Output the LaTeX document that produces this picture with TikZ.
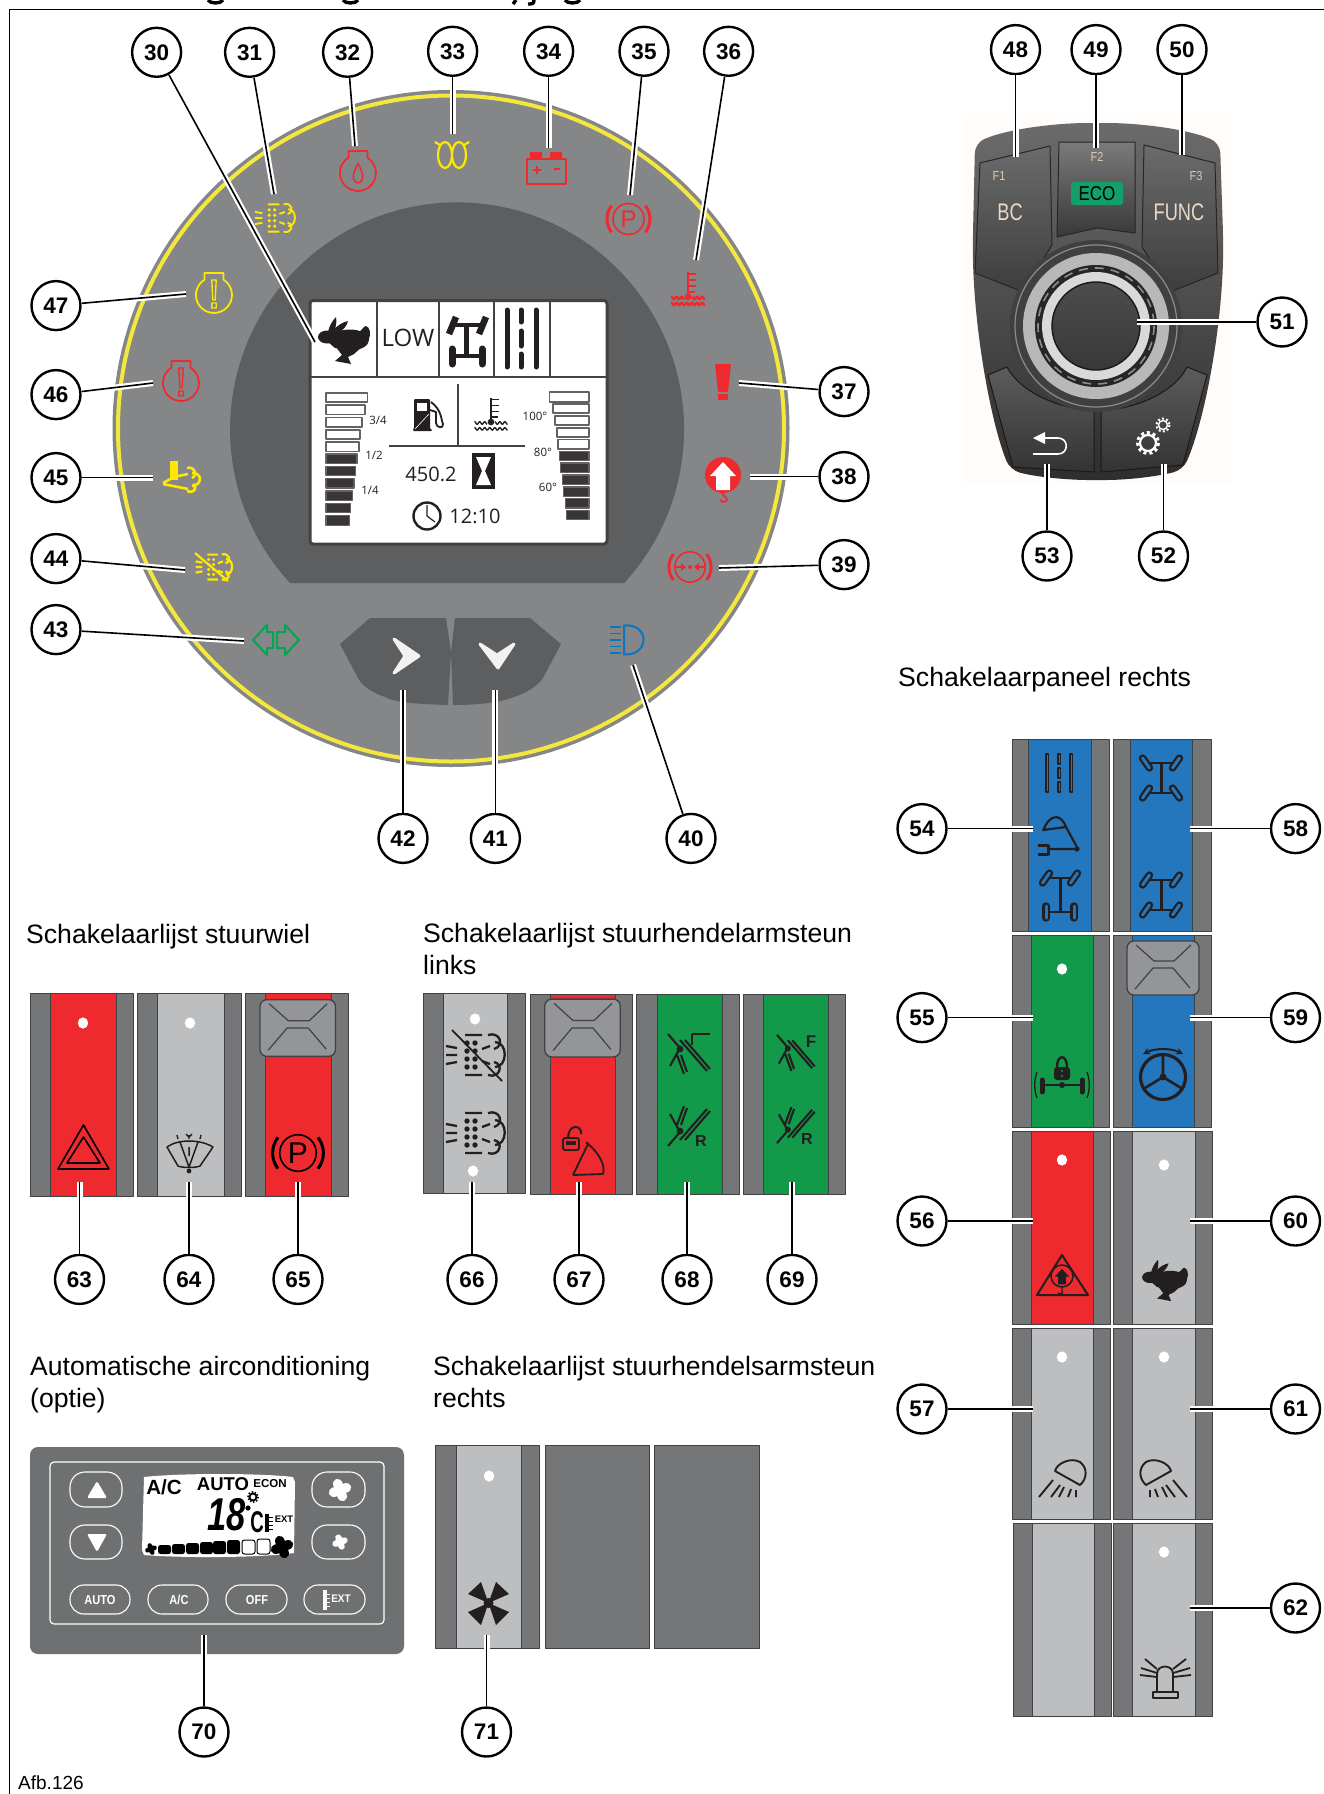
\documentclass[tikz,border=0pt]{standalone}
\usepackage{fontspec}
\setmainfont{Liberation Sans}
\newfontfamily\lcdf{Open Sans}
\definecolor{ringgrey}{HTML}{858688}
\definecolor{ringyel}{HTML}{F4E83E}
\definecolor{inner}{HTML}{5D5E60}
\definecolor{sideg}{HTML}{757678}
\definecolor{lineg}{HTML}{414143}
\definecolor{lightg}{HTML}{BDBEC0}
\definecolor{rocker}{HTML}{939598}
\definecolor{cred}{HTML}{EE2A2E}
\definecolor{cyel}{HTML}{FFE800}
\definecolor{cgreen}{HTML}{129A4A}
\definecolor{cblue}{HTML}{2577BD}
\definecolor{iblue}{HTML}{0A76BE}
\definecolor{igreen}{HTML}{00A651}
\definecolor{ink}{HTML}{231F20}
\definecolor{ecog}{HTML}{12A06A}
\newcommand{\fs}[1]{\fontsize{#1}{#1}\selectfont}
\tikzset{
 num/.style={circle,draw=black,line width=2.4pt,fill=white,minimum size=49pt,inner sep=0pt,font=\bfseries\fs{22.5}},
 leader/.style={draw=black,line width=1.6pt,preaction={draw=white,line width=6pt}},
 plaintxt/.style={anchor=base west,inner sep=0pt,font=\fs{26.6}},
 led/.style={fill=white},
 rabbit/.pic={\fill (6,0) ellipse[x radius=19,y radius=10.5];
   \fill (-17,-3) ellipse[x radius=9,y radius=6.5];
   \fill (-15,-8)--(-4,-9)--(-2,9)--(-9,8)--(-16,2)--cycle;
   \fill (-16,-8) .. controls (-15,-14) and (-11,-20) .. (-8,-23) .. controls (-7,-18) and (-8,-13) .. (-10,-8) -- cycle;
   \fill (-12,-9) .. controls (-6,-15) and (-1,-18) .. (4,-19) .. controls (3,-14) and (-1,-10) .. (-5,-7) --cycle;
   \fill (15,-8) .. controls (18,-10) and (20,-14) .. (22,-14) .. controls (26,-13) and (27,-6) .. (25,-1) .. controls (24,3) and (22,6) .. (18,8) -- cycle;
   \fill (20,5)--(10,14)--(4,17)--(7,24)--(-9,21)--(-2,15)--(-8,7)--cycle;},
 engine/.pic={\draw (-9.5,-22)--(9.5,-22)--(9.5,-15.3) arc[start angle=-58,end angle=238,radius=18]--cycle;},
 excl/.pic={\draw (-2.2,-15)--(2.2,-15)--(1.2,5)--(-1.2,5)--cycle (-2.2,8) rectangle (2.2,13);},
 dpf/.pic={\draw (-9,-20)--(8,-20) (-9,20)--(8,20) (-28,-9)--(-17,-7) (-28,0)--(-17,0) (-28,9)--(-17,7) (8,-6)--(16,-9) (8,6)--(16,9);
   \foreach \dx in {-7,1}{\foreach \dy in {-12,-4,4,12}{\fill (\dx,\dy) circle[radius=2.7];}}
   \draw (14,-20) .. controls (26,-24) and (31,-9) .. (20,-6) (21,-13) .. controls (34,-13) and (34,12) .. (21,12) (14,20) .. controls (26,24) and (30,9) .. (20,7);},
 therm/.pic={\draw (0,-25)--(0,0) (0,-23)--(8,-23) (0,-17)--(8,-17) (0,-11)--(8,-11) (0,-5)--(7,-5);
   \fill (0,0) circle[radius=3.4];
   \draw plot[domain=-17:-4,samples=25] (\x,{1+1.3*sin(\x*70)});
   \draw plot[domain=4:17,samples=25] (\x,{1+1.3*sin(\x*70)});
   \draw plot[domain=-17:17,samples=50] (\x,{7+1.3*sin(\x*70)});},
 fanpic/.pic={\foreach \ang in {20,110,200,290}{\fill[rotate=\ang] (5.5,0) ellipse[x radius=5.6,y radius=4.6];}},
 lever/.pic={\draw (-20,-19)--(-8,-5)--(-18,13) (-8,-13)--(19,18) (-3,-13)--(22,16) (-11,2)--(-4,21) (-7,2)--(-1,19);\fill (-8,-4) circle[radius=3.4];},
 hookarrow/.pic={\fill (0,-13)--(13,1)--(7,1)--(7,15)--(-7,15)--(-7,1)--(-13,1)--cycle;},
 worklamp/.pic={\draw (-8,-6) .. controls (-6,-14) and (8,-20) .. (17,-15) .. controls (25,-9) and (24,2) .. (17,8)--cycle (-10,3)--(-24,20) (-3,8)--(-12,20) (1,10)--(-4,20) (8,12)--(5,20) (13,13)--(13,20);},
 rockershape/.pic={\draw[fill=rocker,draw=lineg,line width=1.3pt,rounded corners=7pt] (-36,-27) rectangle (36,27);
   \draw[lineg,line width=1.2pt] (-27,-23)--(-9,-7)--(11,-7)--(28,-23) (-28,21)--(-10,0)--(10,0)--(27,20);},
}
\newcommand{\switch}[8]{% x1 x2 y1 y2 b1 b2 col name
  \draw[fill=sideg,draw=lineg,line width=1pt] (#1,#3) rectangle (#2,#4);
  \draw[fill=#7,draw=lineg,line width=1pt] (#5,#3) rectangle (#6,#4);
  \coordinate (#8) at ({(#5+#6)/2},{(#3+#4)/2});
}
\newcommand{\ledat}[2]{\fill[led] (#1,#2) ellipse[x radius=5.2,y radius=5.6];}
\newcommand{\axleicon}[9]{% x y ta tb ba bb band dy dx
 \begin{scope}[shift={(#1,#2)}]
  \draw[ink,line width=3pt] (0,{-#8}) -- (0,#8);
  \draw[ink,line width=2.2pt] (-#9,{-#8}) -- (#9,{-#8}) (-#9,#8) -- (#9,#8);
  \foreach \px/\py/\pa in {-1/-1/#3,1/-1/#4,-1/1/#5,1/1/#6}{
   \draw[ink,line width=7.5pt,line cap=round,shift={({\px*#9},{\py*#8})},rotate=\pa] (0,-6) -- (0,6);
   \draw[#7,line width=3pt,line cap=round,shift={({\px*#9},{\py*#8})},rotate=\pa] (0,-6) -- (0,6);
  }
 \end{scope}}
\newcommand{\brake}[5]{% x y scale col Psize
 \begin{scope}[shift={(#1,#2)},scale=#3,#4]
  \draw[line width=1.6pt] (0,0) circle[radius=15.5];
  \draw[line width=3pt] (142:21.5) arc[start angle=142,end angle=218,radius=21.5];
  \draw[line width=3pt] (-38:21.5) arc[start angle=-38,end angle=38,radius=21.5];
 \end{scope}
 \ifx\relax#5\relax\else\node[text=#4,inner sep=0pt,font=\fs{#5}] (pP#1) at (#1,#2) {P};\fi}
\begin{document}
\begin{tikzpicture}[x=1pt,y=-1pt,line join=round]
\useasboundingbox (0,0) rectangle (1324,1794);
\fill[white] (0,0) rectangle (1324,1794);
% cut heading and frame
\draw[line width=3.4pt] (208,0) .. controls (210,4) and (221,4) .. (223,0) (343,0) .. controls (345,4) and (356,4) .. (358,0) (565,0) .. controls (567,4) and (578,4) .. (580,0) (516,0)--(513,4) (534,0) .. controls (534,4) and (532,4) .. (528,4);
\draw[line width=1.3pt] (9.5,1794)--(9.5,9.3)--(1324,9.3);
% ---- instrument panel
\fill[ringgrey] (451,428.5) circle[radius=338.5];
\draw[ringyel,line width=4pt] (451,428.5) circle[radius=333];
\fill[inner] (290,583) arc[start angle=137.4,end angle=402.6,radius=227] -- cycle;
\fill[inner] (340,644)--(370,618)--(446,618)--(451,652)--(448,705) .. controls (420,704) and (395,703) .. (385,697) .. controls (370,692) and (362,685) .. (358,678) -- cycle;
\fill[inner] (455,618)--(530,618)--(561,644)--(543,678) .. controls (535,690) and (515,698) .. (500,701) .. controls (485,704) and (470,705) .. (453,705) -- (451,652) -- cycle;
\filldraw[white!95!black,line width=3pt] (394,639)--(419,656)--(394,673)--(405,656)--cycle;
\filldraw[white!95!black,line width=3pt] (480,644)--(497,655)--(514,644)--(498,668)--cycle;
% display
\draw[fill=white,draw=ink!85,line width=3pt,rounded corners=3pt] (310,300.5) rectangle (607,544);
\draw[ink!85,line width=1.4pt] (310,377)--(607,377) (377,301)--(377,377) (439,301)--(439,377) (494,301)--(494,377) (550,301)--(550,377);
\pic[color=ink] at (344,340) {rabbit};
\node[inner sep=0pt,font=\lcdf\fs{24},text=ink] (tlow) at (408,338) {LOW};
% steer axle solid
\draw[ink,line width=3.4pt] (451,325)--(483,325) (450,356)--(484,356);
\draw[ink,line width=5pt] (466,325)--(466,356);
\draw[ink,line width=6.5pt] (449,334)--(456,317) (479,334)--(486,317);
\draw[ink,line width=7pt,line cap=round] (452,349)--(452,364) (482,349)--(482,364);
% road
\draw[ink,line width=5pt,line cap=round] (507,310)--(507,367) (536,310)--(536,367) (521,310)--(521,322) (521,331)--(521,346) (521,354)--(521,367);
% gauges
\foreach \ta/\tb/\rr in {392.7/402/367.3,405/414.3/364.7,417.3/426.7/362,429.7/439/360,442/451.3/358.7}{\draw[fill=white,draw=ink!70,line width=1.6pt] (326,\ta) rectangle (\rr,\tb);}
\foreach \ta/\tb/\rr in {454/463.3/357,466.3/475.7/355.7,478.7/488/354,491/500.3/352.7,503.3/512.7/350.7,515.3/525.3/349.3}{\draw[fill=ink!90,draw=ink!70,line width=1.2pt] (326,\ta) rectangle (\rr,\tb);}
\foreach \ta/\tb/\ll in {391.7/401.7/549.3,403.7/413/552.7,415.7/425/554.7,427.7/437/556.7,439.3/448.7/558}{\draw[fill=white,draw=ink!70,line width=1.6pt] (\ll,\ta) rectangle (589,\tb);}
\foreach \ta/\tb/\ll in {451.3/460.7/559.3,463/472.3/560.7,475/484.3/562.3,487/496.3/563.7,498.7/508/565.3,510.3/519.7/566.7}{\draw[fill=ink!90,draw=ink!70,line width=1.2pt] (\ll,\ta) rectangle (589,\tb);}
\node[inner sep=0pt,font=\lcdf\fs{11.5},text=ink] (t34) at (378,420) {3/4};
\node[inner sep=0pt,font=\lcdf\fs{11.5},text=ink] (t12) at (374,455) {1/2};
\node[inner sep=0pt,font=\lcdf\fs{11.5},text=ink] (t14) at (370,490) {1/4};
\node[inner sep=0pt,font=\lcdf\fs{11.5},text=ink] (t100) at (535,416) {100°};
\node[inner sep=0pt,font=\lcdf\fs{11.5},text=ink] (t80) at (543,452) {80°};
\node[inner sep=0pt,font=\lcdf\fs{11.5},text=ink] (t60) at (548,487) {60°};
% pump
\fill[ink,rounded corners=1pt] (414,399)--(430,399)--(430,429)--(432,429)--(432,431)--(413,431)--(413,429)--(414,429)--cycle;
\fill[white] (417,403) rectangle (427,411);
\draw[white,line width=.6pt] (415,429)--(429,414);
\draw[ink,line width=1.8pt] (431,402) .. controls (442,410) and (441,420) .. (443,424) .. controls (444,429) and (436,428) .. (436,423) -- (436,412) -- (430,410);
\pic[color=ink,line width=1.4pt,scale=.98] at (491,422) {therm};
\draw[ink!85,line width=2.2pt] (389,446)--(525,446);
\draw[ink!85,line width=1.2pt] (458,384)--(458,446);
\node[inner sep=0pt,font=\lcdf\fs{20},text=ink] (todo) at (431,474) {450.2};
\fill[ink] (472,453) rectangle (495,489);
\fill[white] (476,457)--(491,457)--(485,471)--(491,485)--(476,485)--(482,471)--cycle;
\draw[ink,line width=2.4pt] (427,516) circle[radius=13.5];
\draw[ink,line width=1.2pt] (427,505)--(427,516)--(435,522);
\node[inner sep=0pt,font=\lcdf\fs{20},text=ink] (tclk) at (475,516) {12:10};
% warning icons on ring
\pic[color=cyel,line width=1.9pt,scale=.68] at (274,218) {dpf};
\pic[color=cred,line width=1.8pt] at (358,173) {engine};
\draw[cred,line width=1.5pt] (358,163) .. controls (354,172) and (352,176) .. (354,180) .. controls (356,184) and (360,184) .. (362,180) .. controls (364,176) and (362,172) .. (358,163) -- cycle;
\draw[cyel,line width=2.2pt] (445,155) ellipse[x radius=7,y radius=13] (459,155) ellipse[x radius=7,y radius=13] (435,142)--(440,145) (469,142)--(464,145);
\draw[cred,line width=2pt] (527,159) rectangle (566,184);
\fill[cred] (530,152) rectangle (542,159);
\fill[cred] (550,152) rectangle (562,159);
\draw[cred,line width=1.8pt] (533,170)--(541,170) (537,166)--(537,174) (554,169)--(560,169);
\brake{628.5}{219}{1}{cred}{24}
\pic[color=cred,line width=2.4pt] at (688,297) {therm};
\fill[cred] (715,364)--(731,364)--(728,392)--(718,392)--cycle;
\fill[cred] (718,394) rectangle (728,400);
\fill[cred] (723,475) circle[radius=18];
\pic[color=white] at (723,475) {hookarrow};
\draw[cred,line width=1.8pt] (722,493)--(724,496) .. controls (729,499) and (727,502) .. (723,502) -- (720,500);
\brake{690}{567}{.98}{cred}{}
\draw[cred,line width=2.6pt] (676,567)--(683,567) (704,567)--(697,567);
\fill[cred] (686,567)--(681,563)--(681,571)--cycle;
\fill[cred] (694,567)--(699,563)--(699,571)--cycle;
\fill[cred] (690,567) circle[radius=2];
\draw[iblue,line width=2pt] (624,625.5) .. controls (650,623) and (650,656) .. (624,654.5) -- cycle;
\draw[iblue,line width=1.8pt] (610,627)--(621,627) (610,633.5)--(621,633.5) (610,640)--(621,640) (610,646.5)--(621,646.5) (610,653)--(621,653);
\draw[igreen,line width=2pt] (253,640)--(267,625)--(267,632)--(273,632)--(273,648)--(267,648)--(267,655)--cycle;
\draw[igreen,line width=2pt] (299,640)--(285,625)--(285,632)--(277,632)--(277,648)--(285,648)--(285,655)--cycle;
\pic[color=cyel,line width=2.2pt,scale=.62] at (213,567) {dpf};
\draw[cyel,line width=2.2pt] (195,553)--(228,581);
\fill[cyel] (170,461) rectangle (178,480);
\draw[cyel,line width=2.6pt] (163,483)--(174,477)--(188,474) (163,484)--(188,489);
\draw[cyel,line width=2.6pt] (187,468) .. controls (195,466) and (198,475) .. (192,478) (192,473) .. controls (202,472) and (203,485) .. (192,486) (187,491) .. controls (194,494) and (198,488) .. (193,484);
\pic[color=cred,line width=1.8pt] at (181,383) {engine};
\pic[color=cred,line width=1.4pt] at (181,383) {excl};
\pic[color=cyel,line width=1.8pt] at (214,295) {engine};
\pic[color=cyel,line width=1.4pt] at (214,295) {excl};
% ---- rotary controller
\fill[white!98!orange] (964,118) rectangle (1231,484);
\shade[top color=black!58,bottom color=black!82,rounded corners=10pt] (975,143) .. controls (1010,128) and (1060,123) .. (1097,123) .. controls (1135,123) and (1185,128) .. (1220,143) -- (1223,233) .. controls (1224,320) and (1205,420) .. (1183,470) .. controls (1150,478) and (1120,480) .. (1097,480) .. controls (1075,480) and (1040,478) .. (1010,470) .. controls (990,420) and (972,320) .. (973,233) -- cycle;
\shade[top color=black!58,bottom color=black!76,draw=black!85,line width=1pt] (980,163)--(1050,146)--(1052,245)--(1023,292)--(975,273)--cycle;
\shade[top color=black!58,bottom color=black!76,draw=black!85,line width=1pt] (1144,145)--(1215,163)--(1218,273)--(1170,292)--(1142,247)--cycle;
\shade[top color=black!52,bottom color=black!78,draw=black!85,line width=1pt] (1059,142)--(1135,142)--(1135,233)--(1097,228)--(1057,237)--cycle;
\shade[top color=black!64,bottom color=black!80,draw=black!90,line width=1pt] (988,375)--(1007,367) .. controls (1020,392) and (1060,410) .. (1094,410) -- (1094,472) -- (1013,467) -- cycle;
\shade[top color=black!64,bottom color=black!80,draw=black!90,line width=1pt] (1101,410) .. controls (1135,410) and (1175,392) .. (1187,367) -- (1207,375) -- (1183,465) -- (1101,472) -- cycle;
\fill[black!75] (1096,326) circle[radius=86];
\draw[black!45,line width=1.2pt] (1096,326) circle[radius=81];
\fill[white!72!black] (1096,326) circle[radius=73];
\fill[black!85] (1096,326) circle[radius=61];
\draw[black!45,line width=1.6pt,dash pattern=on 9pt off 7pt] (1096,326) circle[radius=58];
\fill[white!85!black] (1096,326) circle[radius=54];
\shade[top color=black!70,bottom color=black!78,draw=black!90,line width=1.4pt] (1096,326) circle[radius=44];
\node[inner sep=0pt,text=white!78!orange!88!black,font=\fs{13},xscale=.85,transform shape] (tf1) at (999,176) {F1};
\node[inner sep=0pt,text=white!78!orange!88!black,font=\fs{13},xscale=.85,transform shape] (tf2) at (1097,157) {F2};
\node[inner sep=0pt,text=white!78!orange!88!black,font=\fs{13},xscale=.85,transform shape] (tf3) at (1196,176) {F3};
\node[inner sep=0pt,text=white!85!orange!92!black,font=\fs{24},xscale=.76,transform shape] (tbc) at (1010,212) {BC};
\node[inner sep=0pt,text=white!85!orange!92!black,font=\fs{24},xscale=.76,transform shape] (tfunc) at (1179,212) {FUNC};
\fill[ecog,rounded corners=3pt] (1071,182) rectangle (1123,205);
\node[inner sep=0pt,text=black,font=\fs{20},xscale=.85,transform shape] (teco) at (1097,194) {ECO};
\fill[white] (1033,438)--(1045,432)--(1045,444)--cycle;
\draw[white,line width=1.6pt] (1045,438)--(1058,438) .. controls (1069,438) and (1069,454) .. (1058,454) -- (1033,454);
\draw[white,line width=2.2pt] (1148,443) circle[radius=8];
\draw[white,line width=3pt,dash pattern=on 3pt off 3pt] (1148,443) circle[radius=10.5];
\draw[white,line width=1.4pt] (1163,425) circle[radius=4.5];
\draw[white,line width=2pt,dash pattern=on 2pt off 2.2pt] (1163,425) circle[radius=6.5];
% ---- headings
\node[plaintxt] (h1) at (26,943) {Schakelaarlijst stuurwiel};
\node[plaintxt] (h2) at (423,942) {Schakelaarlijst stuurhendelarmsteun};
\node[plaintxt] (h2b) at (423,974) {links};
\node[plaintxt] (h3) at (898,686) {Schakelaarpaneel rechts};
\node[plaintxt] (h4) at (30,1375) {Automatische airconditioning};
\node[plaintxt] (h4b) at (30,1407) {(optie)};
\node[plaintxt] (h5) at (433,1375) {Schakelaarlijst stuurhendelsarmsteun};
\node[plaintxt] (h5b) at (433,1407) {rechts};
\node[anchor=base west,inner sep=0pt,font=\fs{19}] (afb) at (18,1789) {Afb.126};
% ---- lower left switches
\switch{30}{133}{993}{1196}{50}{116}{cred}{s63}
\switch{137}{241}{993}{1196}{157}{224}{lightg}{s64}
\switch{245}{348}{993}{1196}{265}{331}{cred}{s65}
\ledat{83}{1023}\ledat{190}{1023}
\pic[scale=1.05] at (297.7,1028) {rockershape};
\draw[black,line width=1.6pt] (83.5,1125)--(109,1169)--(58,1169)--cycle (83.5,1137)--(100,1163)--(67,1163)--cycle;
\draw[ink,line width=1.5pt] (167,1147) .. controls (178,1139) and (200,1139) .. (213,1147) -- (200,1166) .. controls (195,1168) and (183,1168) .. (178,1166) -- cycle (189,1147)--(189,1156) (180,1142)--(189,1167)--(198,1142);
\fill[ink] (189,1171) circle[radius=2.4];
\draw[ink,line width=1.4pt] (177,1135)--(178,1139) (189,1135)--(189,1139) (186,1134)--(189,1137)--(192,1134) (201,1135)--(200,1139);
\brake{298}{1153}{1.18}{black}{30}
\switch{423}{525.5}{993}{1193}{443}{507}{lightg}{s66}
\switch{530}{632.5}{994}{1194}{550}{615}{cred}{s67}
\switch{636}{739}{994}{1194}{657}{722}{cgreen}{s68}
\switch{743}{845}{994}{1194}{763}{828}{cgreen}{s69}
\ledat{475}{1019}\ledat{473}{1171}
\pic[xscale=1.05,yscale=1.07] at (582.5,1028) {rockershape};
\pic[color=ink,line width=2.3pt] at (474,1055) {dpf};
\draw[ink,line width=1.8pt] (452,1030)--(502,1081);
\pic[color=ink,line width=2.3pt] at (474,1133) {dpf};
% lock+seat 67
\draw[ink,line width=1.8pt,rounded corners=2pt] (563,1138) rectangle (579,1150);
\draw[ink,line width=2pt] (568,1138) .. controls (568,1124) and (582,1124) .. (581,1134);
\fill[ink] (566,1141) rectangle (576,1145);
\draw[ink,line width=1.8pt] (573,1175) -- (603,1174) .. controls (606,1165) and (598,1152) .. (588,1144) -- (573,1175) (588,1144) -- (586,1142);
\pic[color=ink,line width=2.1pt] at (688,1053) {lever};
\draw[ink,line width=2.4pt] (692,1034)--(692,1045) (692,1034)--(710,1034);
\pic[color=ink,line width=2.1pt,yscale=-1] at (688,1127) {lever};
\node[inner sep=0pt,font=\bfseries\fs{16},text=ink] (tr68) at (701,1141) {R};
\pic[color=ink,line width=2.1pt,scale=.9] at (795,1052) {lever};
\node[inner sep=0pt,font=\bfseries\fs{17},text=ink] (tf69) at (811,1042) {F};
\pic[color=ink,line width=2.1pt,yscale=-.9,xscale=.9] at (795,1126) {lever};
\node[inner sep=0pt,font=\bfseries\fs{16},text=ink] (tr69) at (807,1139) {R};
% ---- climate panel
\fill[sideg!95!black,rounded corners=8pt] (30,1447) rectangle (404,1654);
\draw[white,line width=1.2pt,rounded corners=4pt] (50,1462) rectangle (384,1624);
\draw[white,line width=1.1pt,rounded corners=15pt] (70,1472) rectangle (122,1507) (70,1525) rectangle (122,1559) (312,1472) rectangle (365,1507) (312,1525) rectangle (365,1559);
\draw[white,line width=1.1pt,rounded corners=14pt] (70,1585) rectangle (130,1614) (148,1585) rectangle (208,1614) (226,1585) rectangle (287,1614) (304,1585) rectangle (365,1614);
\fill[white,rounded corners=1.5pt] (97,1481)--(107,1498)--(87,1498)--cycle;
\fill[white,rounded corners=1.5pt] (97,1552)--(107,1534)--(87,1534)--cycle;
\pic[color=white,scale=1.05] at (340,1490) {fanpic};
\pic[color=white,scale=.72] at (340,1542) {fanpic};
\node[inner sep=0pt,text=white,font=\bfseries\fs{13},xscale=.85,transform shape] (tau) at (100,1600) {AUTO};
\node[inner sep=0pt,text=white,font=\bfseries\fs{13},xscale=.85,transform shape] (tac) at (179,1600) {A/C};
\node[inner sep=0pt,text=white,font=\bfseries\fs{13},xscale=.85,transform shape] (tof) at (257,1600) {OFF};
\fill[white] (323,1590) rectangle (327,1610);
\draw[white,line width=1pt] (327,1594)--(330,1594) (327,1598)--(330,1598) (327,1602)--(330,1602) (327,1606)--(330,1606);
\node[inner sep=0pt,text=white,font=\bfseries\fs{11},xscale=.9,transform shape] (tex) at (341,1599) {EXT};
% LCD
\fill[white] (144,1477) .. controls (180,1473) and (260,1473) .. (293,1477) -- (295,1482) -- (294,1553) .. controls (260,1558) and (180,1558) .. (144,1555) -- (142,1550) -- cycle;
\node[inner sep=0pt,font=\bfseries\fs{20.5}] (la) at (164,1487) {A/C};
\node[inner sep=0pt,font=\bfseries\fs{18.5}] (lb) at (223,1484) {AUTO};
\node[inner sep=0pt,font=\bfseries\fs{11.5}] (lc) at (270,1484) {ECON};
\node[inner sep=0pt,font=\bfseries\itshape\fs{46},xscale=.75,transform shape] (ld) at (227,1515) {18};
\node[inner sep=0pt,font=\bfseries\fs{30},xscale=.62,transform shape] (le) at (257,1522) {C};
\fill (248,1508) circle[radius=2.6];
\draw[line width=1.8pt] (253,1497) circle[radius=3.5];
\draw[line width=1.6pt,dash pattern=on 1.5pt off 1.7pt] (253,1497) circle[radius=5.2];
\fill (265,1514) rectangle (269,1532);
\draw[line width=1pt] (269,1517)--(273,1517) (269,1521)--(273,1521) (269,1525)--(273,1525) (269,1529)--(273,1529);
\node[inner sep=0pt,font=\bfseries\fs{9.5}] (lf) at (284,1519) {EXT};
\pic[scale=.55] at (151,1549) {fanpic};
\foreach \xa/\ya in {158/1545,172/1544,186/1543,200/1542,213/1541,227/1540}{\fill[rounded corners=2.5pt] (\xa,\ya) rectangle ({\xa+13},1554);}
\draw[line width=1pt,rounded corners=2.5pt] (242,1540) rectangle (255,1554) (257,1539) rectangle (270,1554);
\pic[scale=1.05] at (282,1547) {fanpic};
% ---- armrest right
\switch{435}{539}{1445}{1648}{456}{521}{lightg}{s71}
\draw[fill=sideg,draw=lineg,line width=1pt] (545.5,1445) rectangle (649,1648);
\draw[fill=sideg,draw=lineg,line width=1pt] (654.5,1445) rectangle (759,1648);
\ledat{489}{1476}
\fill[ink] (488.5,1603)--(481,1582)--(468,1594)--cycle;
\fill[ink] (488.5,1603)--(496,1582)--(509,1594)--cycle;
\fill[ink] (488.5,1603)--(481,1625)--(468,1612)--cycle;
\fill[ink] (488.5,1603)--(496,1625)--(509,1612)--cycle;
\fill[ink] (488.5,1603) circle[radius=5];
% ---- right panel
\switch{1012}{1109}{739}{931}{1028}{1091}{cblue}{s54}
\switch{1113}{1211}{739}{931}{1130}{1192}{cblue}{s58}
\switch{1012}{1109}{935}{1127}{1031}{1093}{cgreen}{s55}
\switch{1113}{1211}{935}{1127}{1132}{1194}{cblue}{s59}
\switch{1012}{1110}{1131}{1324}{1031}{1093}{cred}{s56}
\switch{1113}{1212}{1131}{1324}{1132}{1195}{lightg}{s60}
\switch{1012}{1110}{1328}{1519}{1031}{1093}{lightg}{s57}
\switch{1113}{1212}{1328}{1519}{1132}{1195}{lightg}{s61}
\switch{1013}{1111}{1523}{1716}{1032}{1094}{lightg}{s57b}
\switch{1113}{1212}{1523}{1716}{1132}{1195}{lightg}{s62}
\draw[ink,line width=1.4pt] (1046,754) rectangle (1048.5,792) (1070,754) rectangle (1072.5,792) (1058,754) rectangle (1060.5,764) (1058,768) rectangle (1060.5,778) (1058,782) rectangle (1060.5,792);
\draw[ink,line width=2.2pt] (1043,831) .. controls (1048,816) and (1060,811) .. (1066,827) -- (1078,849) -- (1048,849) (1043,830) -- (1066,827);
\draw[ink,line width=3pt] (1038,845) -- (1048,845) -- (1048,854) -- (1038,854);
\fill[ink] (1077,849) circle[radius=2.6];
\axleicon{1060}{895}{-35}{-35}{0}{0}{cblue}{17}{14}
\axleicon{1161}{778}{35}{-35}{-35}{35}{cblue}{15}{15}
\axleicon{1161}{895}{-35}{-35}{-35}{-35}{cblue}{15}{15}
\ledat{1062}{969}
\draw[ink,line width=2.2pt] (1043,1085)--(1082,1085);
\draw[ink,line width=5pt,line cap=round] (1042,1080)--(1042,1092) (1082,1080)--(1082,1092);
\fill[ink,rounded corners=3pt] (1054,1067) rectangle (1070,1080);
\draw[ink,line width=2.4pt] (1057,1067) .. controls (1057,1054) and (1067,1054) .. (1067,1067);
\fill[cgreen] (1062,1071) circle[radius=1.2];
\fill[cgreen] (1062,1076) circle[radius=1.2];
\fill[ink] (1062,1085) circle[radius=3];
\draw[ink,line width=1.3pt] (1037,1072) .. controls (1034,1080) and (1034,1090) .. (1037,1098) (1087,1072) .. controls (1090,1080) and (1090,1090) .. (1087,1098);
\pic at (1163,968) {rockershape};
\draw[ink,line width=3.2pt] (1163,1077) circle[radius=22.5];
\fill[ink] (1163,1077) circle[radius=3.5];
\draw[ink,line width=2.6pt] (1163,1077)--(1163,1056) (1163,1077)--(1145,1088) (1163,1077)--(1181,1088);
\draw[ink,line width=2pt,<->,>=stealth] (1143,1054) .. controls (1155,1048) and (1171,1048) .. (1183,1054);
\ledat{1062}{1160}\ledat{1164}{1165}\ledat{1062}{1357}\ledat{1164}{1357}\ledat{1164}{1552}
\draw[ink,line width=2pt] (1062,1255)--(1088,1295)--(1037,1295)--cycle;
\draw[ink,line width=1.6pt] (1062,1276) circle[radius=11];
\pic[color=ink,scale=.55] at (1062,1276) {hookarrow};
\draw[ink,line width=1.4pt] (1062,1287)--(1062,1291) .. controls (1064,1294) and (1060,1295) .. (1058,1293);
\pic[color=ink,scale=.88] at (1165,1280) {rabbit};
\pic[color=ink,line width=1.9pt] at (1063,1477) {worklamp};
\pic[color=ink,line width=1.9pt,xscale=-1] at (1163,1477) {worklamp};
\draw[ink,line width=1.8pt] (1153,1692) rectangle (1178,1698) (1157,1692)--(1157,1674) .. controls (1157,1664) and (1173,1664) .. (1173,1674) -- (1173,1692) (1157,1669)--(1145,1659) (1157,1673)--(1141,1668) (1157,1677)--(1140,1675) (1173,1669)--(1186,1659) (1173,1673)--(1190,1668) (1173,1677)--(1191,1675);
% ---- numbered markers
\foreach \nn/\xx/\yy in {30/156.6/52.3,31/249.6/52.3,32/347.6/52.3,33/452.6/51.3,34/548.6/51.3,35/644/51.3,36/728.6/51.3,37/844/391.6,38/844/476.6,39/844/564.6,40/691/838.4,41/495.4/838.4,42/403/838.4,43/56/629.6,44/56/558.6,45/56/477.6,46/56/394.6,47/56/305.6,48/1015.5/49.6,49/1096/49.6,50/1182/49.6,51/1282/322,52/1163.5/556,53/1047/556,54/922/828.6,55/922/1017.6,56/922/1221,57/922/1409,58/1295.5/828.6,59/1295.5/1017.6,60/1295.5/1221,61/1295.5/1409,62/1295.5/1608,63/79.5/1279.4,64/189/1279.4,65/298/1279.4,66/472/1279.4,67/579/1279.4,68/687/1279.4,69/792/1279.4,70/204/1732,71/486.5/1732}{\node[num] (n\nn) at (\xx,\yy) {\nn};}
\foreach \nn/\xx/\yy in {30/315/342,31/274/194,32/355/146,33/452.6/134,34/548.6/148,35/630/195,36/696/260,37/739/383,38/750/476.6,39/719/568,40/633/665,41/495.4/690,42/403/690,43/244/641,44/185/570,45/153/477.6,46/153/383,47/186/294,48/1015.5/157,49/1096/148,50/1182/155,51/1137/322,52/1163.5/464,53/1047/464,54/1033/828.6,55/1033/1017.6,56/1033/1221,57/1033/1409,58/1190/828.6,59/1190/1017.6,60/1190/1221,61/1190/1409,62/1190/1608,63/79.5/1182,64/189/1182,65/298/1182,66/472/1182,67/579/1182,68/687/1182,69/792/1182,70/204/1635,71/486.5/1635}{\coordinate (e\nn) at (\xx,\yy); \draw[leader] (e\nn) -- (n\nn);}
\end{tikzpicture}
\end{document}
